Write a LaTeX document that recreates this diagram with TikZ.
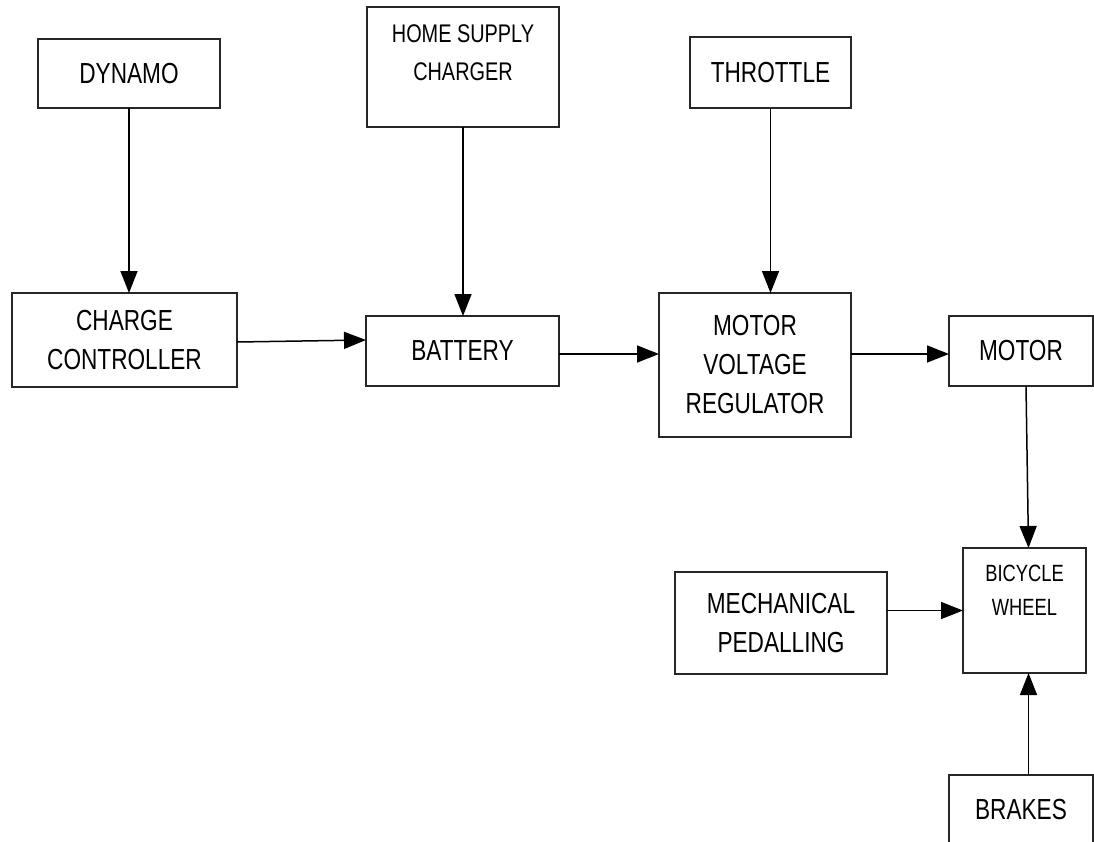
\documentclass[tikz,border=0pt]{standalone}
\usepackage{fontspec}
\setmainfont{Liberation Sans}[FakeStretch=0.78]
\usetikzlibrary{arrows.meta}

\begin{document}
\begin{tikzpicture}[x=1pt,y=-1pt,
        block/.style={draw=black!85,line width=1.6pt,inner sep=0pt,outer sep=0pt,align=center,
            font=\fontsize{29}{39}\selectfont},
        toptext/.style={inner sep=0pt,align=center,anchor=north,yshift=-17pt},
        arr/.style={line width=1.5pt,-{Triangle[length=22pt,width=17pt]}}]
        \useasboundingbox (0,0) rectangle (1094,841);

        % Draw boxes
        \node[block,minimum width=182,minimum height=69] (dynamo) at (129,73.5) {DYNAMO};
        \node[block,minimum width=192,minimum height=120,
            label={[toptext,font=\fontsize{25.5}{38}\selectfont]north:{HOME SUPPLY\\CHARGER}}] (home) at (463,67) {};
        \node[block,minimum width=161,minimum height=71] (throttle) at (770.5,72.5) {THROTTLE};
        \node[block,minimum width=225,minimum height=94] (charger) at (124.5,340) {CHARGE\\CONTROLLER};
        \node[block,minimum width=193,minimum height=70] (battery) at (462.5,351) {BATTERY};
        \node[block,minimum width=192,minimum height=144] (regulator) at (755,365) {MOTOR\\VOLTAGE\\REGULATOR};
        \node[block,minimum width=144,minimum height=70] (motor) at (1021,351) {MOTOR};
        \node[block,minimum width=123,minimum height=125,
            label={[toptext,font=\fontsize{23.5}{34}\selectfont]north:{BICYCLE\\WHEEL}}] (wheel) at (1024.5,610.5) {};
        \node[block,minimum width=212,minimum height=102] (pedal) at (781,623) {MECHANICAL\\PEDALLING};
        \node[block,minimum width=144,minimum height=70] (brakes) at (1021,810) {BRAKES};

        % Draw arrows
        \draw[arr] (dynamo.south) -- (dynamo.south |- charger.north);
        \draw[arr] (home.south) -- (home.south |- battery.north);
        \draw[arr] (throttle.south) -- (throttle.south |- regulator.north);
        \draw[arr] ([yshift=-2pt]charger.east) -- (charger.east -| battery.west);
        \draw[arr] ([yshift=-3pt]battery.east) -- ([yshift=-3pt]battery.east -| regulator.west);
        \draw[arr] ([yshift=-3pt]motor.west -| regulator.east) -- ([yshift=-3pt]motor.west);
        \draw[arr] ([xshift=5pt]motor.south) -- ([xshift=4pt]wheel.north);
        \draw[arr] (pedal.east |- wheel.west) -- (wheel.west);
        \draw[arr] ([xshift=4pt]brakes.north -| wheel.south) -- ([xshift=4pt]wheel.south);
    \end{tikzpicture}
\end{document}
